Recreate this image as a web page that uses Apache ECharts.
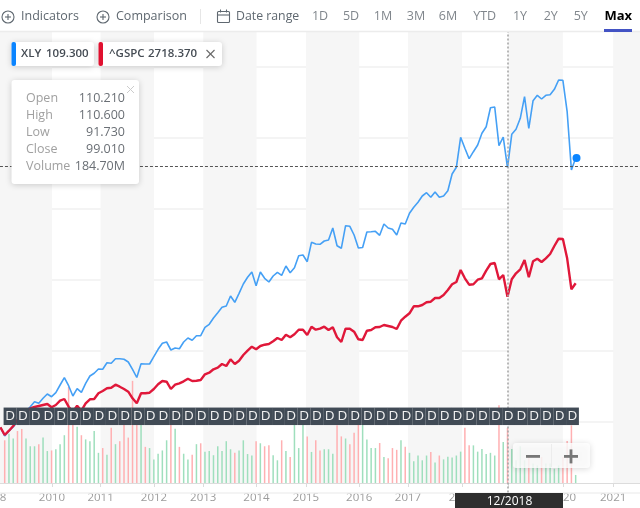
<!DOCTYPE html>
<html><head><meta charset="utf-8">
<style>html,body{margin:0;padding:0;background:#fff}#c{width:640px;height:508px}</style>
<script src="https://cdn.jsdelivr.net/npm/echarts@6/dist/echarts.min.js"></script>
</head><body><div id="c"></div>
<script>
// months are counted from the first volume bar; line series begin one month earlier
const xlyLine = [-6,-14.5,-9.5,-5.5,0.5,4.5,10.5,14.8,19.8,18.2,23.2,27.5,24.8,28.8,36.5,43.8,35.8,25.5,32.8,29.2,38.2,45.5,48.2,52.5,52.2,58.8,58.2,62.8,62.8,62.2,59.5,52.2,44,57.8,57.5,57.5,64.8,72.2,78.2,79.5,71.5,73.5,72.8,79.5,83.5,81.2,85.8,85.8,94.2,97.2,103.5,108.8,114.2,115.5,125.5,119.2,128.2,137.5,144.2,149.5,135.8,149.5,143.2,139.5,145.5,149.2,146.2,155.5,148.8,153.8,165.8,166.5,159.8,179.2,177.5,177.2,180.5,181.5,193.5,175.8,173.2,195.8,195.2,186.5,173.5,174,189.5,189.8,190.2,186.2,197.5,193.5,192.2,186.5,198.5,197.5,208.2,214.2,219.2,225.5,228.8,224.2,229.5,224.2,225.5,230.8,247.5,254.2,284.2,273.2,262.8,269.8,276.5,288.2,294.8,313.8,314.5,275.8,284.5,253.8,287.2,292.2,303.2,324.8,293.2,320.8,326.2,322.5,326.2,326.8,332.2,341.5,341.2,309.8,251.5,263.5];
const gspcLine = [-5.8,-13.5,-9.2,-4.5,1.5,5.5,9.8,13,14.5,15.5,16.5,17.5,14.2,16.5,20.8,22.5,14.8,9.8,15.8,10.8,18.2,22.2,22.5,28.2,30.5,33.2,33.8,36.8,34.8,32.5,29.8,23.2,18.2,28.2,28.2,28.8,32.5,37.2,40.5,39.8,32.5,36.8,38.2,40.2,42.8,40.5,40.8,41.5,47.2,48.8,52.2,53.8,57.5,55.5,62.2,57.5,60.8,66.5,70.8,74.8,72.2,75.5,76.8,77.5,80.2,83.5,81.5,86.8,84.2,87.2,91.8,91.8,86.5,94.8,91.8,92.8,94.8,91.5,94.2,84.2,79.5,92.8,92.8,89.8,82.2,81.5,90.8,91.5,94.2,94.5,96.5,95.5,94.5,92.5,100.8,104.8,108.2,115.2,115.2,116.5,119.2,119.8,123.5,123.5,126.5,131.5,137.2,139.5,151.5,143.2,136.8,137.2,141.8,143.2,150.8,157.5,158.5,142.2,146.5,124.8,142.2,148.2,152.2,161.5,144.2,160.2,162.8,159.5,163.2,167.5,175.5,182.8,182.5,163.2,132.2,138.2];
const volume = [143,165,149,174,181,149,123,123,130,152,107,109,113,130,160,322,249,188,160,146,140,174,101,117,95,185,130,140,199,152,342,243,199,121,117,79,98,109,143,221,182,121,98,79,95,130,133,105,107,93,123,107,140,113,101,109,143,97,92,140,133,123,126,93,76,143,107,87,199,117,199,156,104,143,109,113,113,98,193,156,149,130,168,199,199,146,117,117,134,87,83,117,111,143,121,101,73,92,76,92,104,69,92,79,88,85,92,105,185,126,126,105,114,97,101,92,260,137,184.7,114,76,123,76,87,65,59,87,65,65,48,59,87,141,193,27];
const volumeDown = [1,0,0,1,1,0,0,0,1,0,0,1,0,0,0,1,1,0,1,0,0,0,0,1,0,1,0,1,1,1,1,1,0,1,0,0,0,0,0,1,0,1,0,0,1,0,1,0,0,0,0,0,0,0,1,0,0,0,0,1,0,1,1,0,0,1,0,1,0,0,0,1,0,1,1,0,0,0,1,1,0,1,1,1,0,0,0,0,1,0,1,1,1,0,1,0,0,0,0,0,1,0,1,0,0,0,0,0,1,1,0,0,0,0,0,0,1,0,1,0,0,0,0,1,0,0,1,0,0,0,0,1,1,1,0];
const dividendMonths = [1.25,4.25,7.25,10.25,13.25,16.25,19.25,22.25,25.25,28.25,31.25,34.25,37.25,40.25,43.25,46.25,49.25,52.25,55.25,58.25,61.25,64.25,67.25,70.25,73.25,76.25,79.25,82.25,85.25,88.25,91.25,94.25,97.25,100.25,103.25,106.25,109.25,112.25,115.25,118.25,121.25,124.25,127.25,130.25,133.25];
const yearLabels = ['2008','2010','2011','2012','2013','2014','2015','2016','2017','2018','2019','2020','2021'];
const yearMonths = [-2.7,11.1,22.5,35.04,46.6,59.1,70.7,83.2,94.65,107.3,118.1,131,142.8];
const shadedSpans = [[-10.5,11.1],[22.5,35.04],[46.6,59.1],[70.7,83.2],[94.65,107.3],[118.1,131],[142.8,151.5]];
const rangeButtons = [['1D',320],['5D',351],['1M',383],['3M',416],['6M',448],['YTD',484.7],['1Y',520],['2Y',550.7],['5Y',580.7]];
const ohlc = [['Open','110.210',98.5],['High','110.600',115.5],['Low','91.730',132.2],['Close','99.010',149],['Volume','184.70M',166]];

const FONT = '"Open Sans", sans-serif';
const Z = 100;
function T(text,x,y,o={}){return {type:'text',z:o.z||Z,style:{text,x,y,fill:o.fill||'#5f6870',font:`${o.weight||'normal'} ${o.size||12.5}px ${FONT}`,align:o.align||'left',verticalAlign:'middle'}};}
function R(x,y,w,h,fill,o={}){return {type:'rect',z:o.z||Z-1,shape:{x,y,width:w,height:h,r:o.r||0},style:Object.assign({fill},o.style||{})};}
function L(x1,y1,x2,y2,stroke,w=1.2,z=Z){return {type:'line',z,shape:{x1,y1,x2,y2},style:{stroke,lineWidth:w}};}
function plusIcon(cx,cy){return [
  {type:'circle',z:Z,shape:{cx,cy,r:6},style:{fill:'none',stroke:'#5f6870',lineWidth:1.1}},
  L(cx-3,cy,cx+3,cy,'#5f6870',1.1),L(cx,cy-3,cx,cy+3,'#5f6870',1.1)];}
const shadow={shadowBlur:6,shadowColor:'rgba(0,0,0,0.18)',shadowOffsetY:1};
const graphics = [
  R(0,0,640,31,'#fff'), L(0,31.5,640,31.5,'#ececec',1.5,Z-1),
  ...plusIcon(8,17), T('Indicators',21,16.5),
  ...plusIcon(103,17), T('Comparison',116,16.5),
  L(200.5,9,200.5,24,'#e6e6e6',1),
  {type:'rect',z:Z,shape:{x:217.5,y:11.5,width:12,height:11,r:1},style:{fill:'none',stroke:'#5f6870',lineWidth:1.1}},
  L(217.5,15,229.5,15,'#5f6870',1.1),L(220.5,9.5,220.5,12.5,'#5f6870',1.1),L(226.5,9.5,226.5,12.5,'#5f6870',1.1),
  T('Date range',236,16.5,{size:12.3}),
  ...rangeButtons.map(b=>T(b[0],b[1],16.5,{align:'center',fill:'#80868c'})),
  T('Max',618.3,16.5,{align:'center',fill:'#000',weight:'bold',size:13}),
  R(604,29,28,3,'#4353c4',{z:Z}),
  // legend chips
  R(11.5,42,82.5,24,'#fff',{r:3,style:shadow}), R(11.5,42,4.5,24,'#0a84ff',{r:2,z:Z}),
  T('XLY',21,54,{size:11.5,weight:'600',fill:'#454c54'}), T('109.300',46,54,{size:11.5,weight:'600',fill:'#454c54'}),
  R(98.5,42,123.5,24,'#fff',{r:3,style:shadow}), R(98.5,42,4.5,24,'#e0102f',{r:2,z:Z}),
  T('^GSPC',109,54,{size:11.5,weight:'600',fill:'#454c54'}), T('2718.370',148,54,{size:11.5,weight:'600',fill:'#454c54'}),
  L(206.5,50,214.5,58,'#666',1.1),L(214.5,50,206.5,58,'#666',1.1),
  // ohlc card
  R(11.5,80,127.5,104,'#fff',{r:3,style:shadow}),
  L(127,86,134,93,'#ccc',1),L(134,86,127,93,'#ccc',1),
  ...ohlc.map(r=>T(r[0],26,r[2],{fill:'#a0a0a0'})),
  ...ohlc.map(r=>T(r[1],125,r[2],{align:'right',fill:'#6a6f75'})),
  // zoom control
  R(513,443,77,25,'rgba(255,255,255,0.82)',{r:3,z:50,style:shadow}),
  L(551.5,444,551.5,467,'#ececec',1,51),
  R(526,455,14,2.8,'#777',{z:51}),R(564,455,14,2.8,'#777',{z:51}),R(569.6,449.4,2.8,14,'#777',{z:51}),
  // date flag
  R(455,493,108,15,'#2e2e2e',{z:Z}),
  T('12/2018',509.5,501.5,{align:'center',fill:'#fff',size:12}),
];

const xBase = {type:'value',min:-10.5,max:151.5};
const option = {
  animation:false, backgroundColor:'#fff',
  grid:[
    {left:-40.04,right:-10.24,top:-4.5,height:497,outerBoundsMode:'none'},
    {left:-40.04,right:-10.24,top:32,height:451,outerBoundsMode:'none'}
  ],
  xAxis:[
    Object.assign({},xBase,{gridIndex:0,show:false}),
    Object.assign({},xBase,{gridIndex:1,splitLine:{show:false},
      axisLine:{show:true,onZero:false,lineStyle:{color:'#dcdcdc',width:1}},
      axisTick:{show:true,length:4,customValues:yearMonths,lineStyle:{color:'#dcdcdc'}},
      axisLabel:{show:true,customValues:yearMonths,margin:9,fontFamily:FONT,fontSize:11.5,color:'#9c9c9c',
        formatter:v=>{const i=yearMonths.findIndex(m=>Math.abs(m-v)<1e-6);return i<0?'':yearLabels[i];}}
    })
  ],
  yAxis:[
    {type:'value',gridIndex:0,min:-71,max:426,interval:71,z:1,axisLine:{show:false},axisTick:{show:false},axisLabel:{show:false},
      splitLine:{show:true,lineStyle:{color:'#f0f0f0',width:1.5}}},
    {type:'value',gridIndex:1,min:0,max:1510,axisLine:{show:false},axisTick:{show:false},axisLabel:{show:false},splitLine:{show:false}}
  ],
  graphic:{elements:graphics},
  series:[
    {type:'line',name:'bands',xAxisIndex:1,yAxisIndex:1,z:0,data:[],silent:true,
      markArea:{silent:true,itemStyle:{color:'#f6f6f6'},data:shadedSpans.map(s=>[{xAxis:s[0]},{xAxis:s[1]}])}},
    {type:'bar',name:'Volume',xAxisIndex:1,yAxisIndex:1,z:2,barWidth:1.5,
      data:volume.map((v,k)=>[k,v]),
      itemStyle:{color:p=>volumeDown[p.dataIndex]?'#ffb0b2':'#9fdfbd'}},
    {type:'line',name:'XLY',xAxisIndex:0,yAxisIndex:0,z:3,showSymbol:false,
      data:xlyLine.map((v,k)=>[k-1,v]),lineStyle:{color:'#45a0f5',width:1.6},
      markLine:{silent:true,symbol:'none',label:{show:false},animation:false,
        data:[{xAxis:118.1,lineStyle:{color:'#a8a8a8',type:[2,2],width:1.6}},
              {yAxis:255,lineStyle:{color:'#555',type:[3,2],width:1}}]}},
    {type:'line',name:'^GSPC',xAxisIndex:0,yAxisIndex:0,z:4,showSymbol:false,
      data:gspcLine.map((v,k)=>[k-1,v]),lineStyle:{color:'#e0183a',width:2.4}},
    {type:'scatter',name:'XLY last',xAxisIndex:0,yAxisIndex:0,z:4,symbolSize:8,
      data:[[134.2,xlyLine[xlyLine.length-1]]],itemStyle:{color:'#0a84ff',opacity:1}},
    {type:'scatter',name:'Dividends',xAxisIndex:0,yAxisIndex:0,z:5,symbol:'rect',symbolSize:[12.86,17.5],
      data:dividendMonths.map(m=>[m,5.2]),itemStyle:{color:'#414b56',opacity:1},
      label:{show:true,position:'inside',formatter:'D',color:'#f2f2f2',fontFamily:FONT,fontSize:13.5}}
  ]
};
echarts.init(document.getElementById('c'),null,{renderer:'canvas'}).setOption(option);
</script></body></html>
